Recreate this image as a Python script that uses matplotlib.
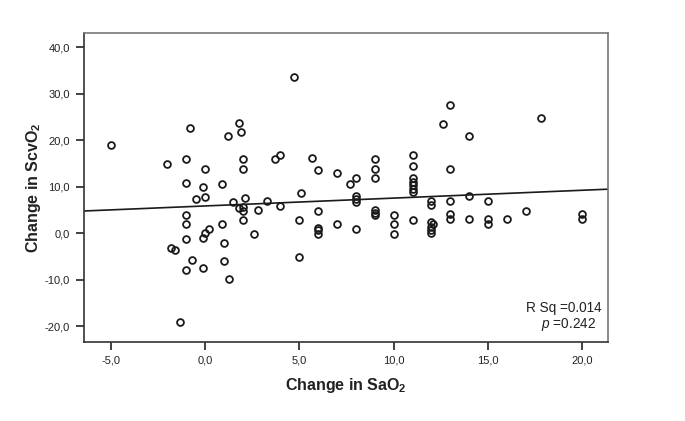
import matplotlib
matplotlib.use("Agg")
import matplotlib.pyplot as plt
from matplotlib.ticker import FuncFormatter, FixedLocator
import numpy as np

plt.rcParams['font.family'] = ['Liberation Sans', 'DejaVu Sans']
plt.rcParams['mathtext.fontset'] = 'custom'
plt.rcParams['mathtext.rm'] = 'Liberation Sans'
plt.rcParams['mathtext.it'] = 'Liberation Sans:italic'
plt.rcParams['mathtext.bf'] = 'Liberation Sans:bold'

# Data
change_sao2 = [
    -5.0, -0.8, 1.8, 1.9, 1.2, -2.0, -1.0, 0.0, 2.0, 2.0, -1.0, -0.1, 0.9,
    -0.5, 0.0, 1.5, 2.1, 1.8, 2.0, 2.0, 2.0, 2.8, 2.6,
    -1.0, -1.0, -1.0, -0.1, 0.0, 0.2, 0.9, 1.0, -1.8, -1.6, -0.7, -1.0, -0.1, 1.0, 1.3, -1.3,
    4.7, 3.7, 4.0, 5.7, 6.0, 7.0, 7.7, 8.0, 9.0, 9.0, 9.0,
    11.0, 11.0, 11.0, 11.0, 11.0, 11.0, 11.0,
    3.3, 4.0, 5.1, 5.0, 5.0, 6.0, 6.0, 6.0, 6.0, 7.0,
    8.0, 8.0, 8.0, 8.0, 9.0, 9.0, 9.0, 10.0, 10.0, 10.0, 11.0,
    12.0, 12.0, 12.0, 12.1, 12.0, 12.0, 12.0,
    13.0, 12.6, 14.0, 17.8, 13.0,
    13.0, 14.0, 15.0, 13.0, 13.0, 14.0, 15.0, 15.0, 16.0, 17.0, 20.0, 20.0,
]
change_scvo2 = [
    19.0, 22.7, 23.8, 21.9, 20.9, 14.9, 15.9, 13.9, 15.9, 13.9, 10.9, 9.9, 10.5,
    7.4, 7.9, 6.8, 7.5, 5.4, 5.7, 4.8, 2.9, 5.0, -0.1,
    3.9, 1.9, -1.2, -1.1, 0.0, 1.0, 1.9, -2.1, -3.2, -3.6, -5.8, -8.0, -7.5, -6.0, -9.8, -19.0,
    33.7, 15.9, 16.9, 16.2, 13.7, 12.9, 10.6, 12.0, 15.9, 13.9, 12.0,
    16.9, 14.4, 12.0, 11.1, 10.3, 9.5, 8.8,
    7.0, 5.9, 8.6, 2.9, -5.1, 4.9, 1.1, 0.6, -0.1, 1.9,
    8.0, 7.3, 6.7, 0.9, 5.0, 4.4, 3.9, 3.9, 1.9, -0.1, 2.9,
    7.0, 6.0, 2.5, 2.0, 1.4, 0.7, 0.0,
    27.6, 23.6, 20.9, 24.9, 13.9,
    7.0, 8.0, 7.0, 4.1, 3.0, 3.0, 3.0, 1.9, 3.0, 4.9, 4.1, 3.0,
]

# Fit line as printed on the chart (intercept, slope)
fit_intercept = 5.88
fit_slope = 0.169
r_sq_text = "R Sq =0.014"
p_value_text = "=0.242"

x_ticks = [-5, 0, 5, 10, 15, 20]
y_ticks = [-20, -10, 0, 10, 20, 30, 40]
x_label = r'Change in SaO$_\mathbf{2}$'
y_label = r'Change in ScvO$_\mathbf{2}$'

fig = plt.figure(figsize=(6.85, 4.21), dpi=100)
ax = fig.add_axes([0.1226, 0.1876, 0.765, 0.734])

xlim = (-6.41, 21.36)
ylim = (-23.4, 43.1)
ax.set_xlim(*xlim)
ax.set_ylim(*ylim)

ax.plot(change_sao2, change_scvo2, linestyle='none', marker='o', markersize=4.9,
        markerfacecolor='none', markeredgecolor='#1a1a1a', markeredgewidth=1.3, zorder=3)

xx = np.array(xlim)
ax.plot(xx, fit_intercept + fit_slope * xx, color='#1a1a1a', linewidth=1.2, zorder=2)

fmt = FuncFormatter(lambda v, pos: f"{v:.1f}".replace('.', ','))
ax.xaxis.set_major_locator(FixedLocator(x_ticks))
ax.yaxis.set_major_locator(FixedLocator(y_ticks))
ax.xaxis.set_major_formatter(fmt)
ax.yaxis.set_major_formatter(fmt)
ax.tick_params(axis='both', direction='out', length=6, width=1.2, labelsize=8,
               colors='#222222', pad=4)
ax.tick_params(top=False, right=False)

for side in ['top', 'right']:
    ax.spines[side].set_color('#777777')
    ax.spines[side].set_linewidth(1.2)
for side in ['left', 'bottom']:
    ax.spines[side].set_color('#333333')
    ax.spines[side].set_linewidth(1.2)

ax.set_xlabel(x_label, fontsize=11.5, fontweight='bold', color='#222222', labelpad=7)
ax.set_ylabel(y_label, fontsize=11.5, fontweight='bold', color='#222222', labelpad=1)

ax.text(0.988, 0.11, r_sq_text, transform=ax.transAxes, ha='right', va='center',
        fontsize=9.8, color='#222222')
ax.text(0.873, 0.056, r'$\it{p}$ ' + p_value_text, transform=ax.transAxes, ha='left', va='center',
        fontsize=9.8, color='#222222')

fig.savefig('out.png', dpi=100, facecolor='white')
